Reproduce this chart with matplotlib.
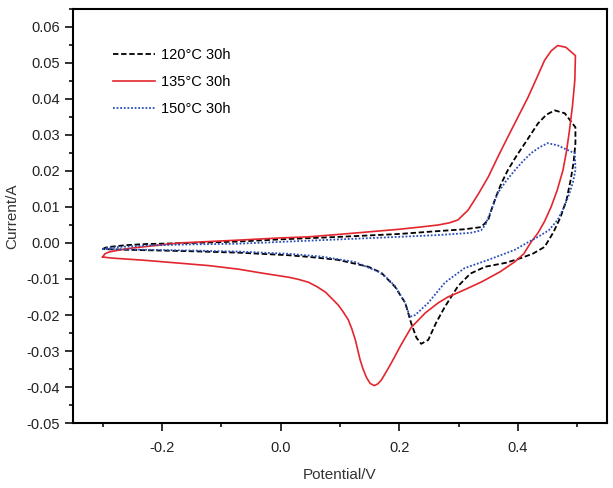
import numpy as np
import matplotlib
matplotlib.use('Agg')
import matplotlib.pyplot as plt
from matplotlib.ticker import MultipleLocator

plt.rcParams['font.family'] = ['Liberation Sans', 'DejaVu Sans']

labels = ['120°C 30h', '135°C 30h', '150°C 30h']

# 120 C: closed CV loop, anodic branch then cathodic branch
v120 = [-0.300, -0.295, -0.289, -0.26, -0.227, -0.15, -0.07, 0.00, 0.10, 0.20, 0.266, 0.31,
        0.338, 0.35, 0.356, 0.363, 0.372, 0.383, 0.397, 0.412, 0.434, 0.448, 0.462, 0.479,
        0.497, 0.497, 0.494, 0.489, 0.482, 0.472, 0.46, 0.445, 0.425, 0.405, 0.38, 0.345,
        0.32, 0.299, 0.277, 0.262, 0.249, 0.237, 0.229, 0.220, 0.210, 0.193, 0.170, 0.148,
        0.097, 0.05, 0.013, -0.07, -0.15, -0.257, -0.300]
i120 = [-0.0017, -0.0013, -0.0011, -0.0006, -0.0003, 0.0000, 0.0004, 0.0010, 0.0017, 0.0025,
        0.0033, 0.0038, 0.0044, 0.0064, 0.0095, 0.0128, 0.0165, 0.0202, 0.0240, 0.0277,
        0.0332, 0.0356, 0.0368, 0.0360, 0.0321, 0.0277, 0.0225, 0.0175, 0.0120, 0.0072,
        0.0030, -0.0011, -0.0030, -0.0042, -0.0055, -0.0066, -0.0085, -0.0120, -0.0177,
        -0.0222, -0.0269, -0.0280, -0.0263, -0.0222, -0.0166, -0.0122, -0.0083, -0.0066,
        -0.0047, -0.0039, -0.0034, -0.0027, -0.0023, -0.0019, -0.0017]

# 135 C
v135 = [-0.300, -0.296, -0.289, -0.27, -0.25, -0.21, -0.171, -0.12, -0.07, 0.00, 0.047, 0.10,
        0.15, 0.20, 0.24, 0.266, 0.285, 0.299, 0.316, 0.333, 0.35, 0.366, 0.383, 0.40, 0.417,
        0.431, 0.445, 0.456, 0.467, 0.481, 0.497, 0.496, 0.492, 0.487, 0.482, 0.476, 0.466,
        0.456, 0.445, 0.434, 0.422, 0.41, 0.395, 0.37, 0.34, 0.31, 0.282, 0.266, 0.244,
        0.220, 0.203, 0.187, 0.178, 0.170, 0.164, 0.158, 0.151, 0.145, 0.139, 0.134, 0.126,
        0.120, 0.114, 0.105, 0.097, 0.076, 0.062, 0.047, 0.03, 0.013, -0.03, -0.07, -0.12,
        -0.171, -0.23, -0.284, -0.300]
i135 = [-0.0039, -0.0030, -0.0025, -0.0019, -0.0014, -0.0007, 0.0000, 0.0004, 0.0008, 0.0014,
        0.0017, 0.0024, 0.0031, 0.0038, 0.0045, 0.0050, 0.0056, 0.0064, 0.0091, 0.0135,
        0.0183, 0.0238, 0.0294, 0.0349, 0.0404, 0.0455, 0.0507, 0.0533, 0.0548, 0.0543,
        0.0520, 0.0452, 0.0380, 0.0313, 0.0255, 0.0202, 0.0145, 0.0100, 0.0060, 0.0028,
        0.0002, -0.0030, -0.0052, -0.0080, -0.0107, -0.0130, -0.0150, -0.0166, -0.0194,
        -0.0235, -0.0283, -0.0332, -0.0358, -0.0380, -0.0391, -0.0396, -0.0390, -0.0374,
        -0.0350, -0.0324, -0.0269, -0.0238, -0.0213, -0.0190, -0.0172, -0.0137, -0.0122,
        -0.0109, -0.0101, -0.0095, -0.0084, -0.0073, -0.0063, -0.0056, -0.0048, -0.0042,
        -0.0039]

# 150 C
v150 = [-0.300, -0.29, -0.227, -0.15, -0.07, 0.00, 0.10, 0.20, 0.266, 0.32, 0.338, 0.345,
        0.355, 0.366, 0.38, 0.395, 0.408, 0.422, 0.436, 0.45, 0.467, 0.481, 0.496, 0.497,
        0.493, 0.487, 0.478, 0.467, 0.452, 0.434, 0.415, 0.395, 0.35, 0.31, 0.277, 0.249,
        0.227, 0.218, 0.21, 0.193, 0.178, 0.165, 0.126, 0.07, 0.013, -0.07, -0.15, -0.257,
        -0.300]
i150 = [-0.0017, -0.0013, -0.0007, -0.0004, -0.0002, 0.0003, 0.0010, 0.0017, 0.0022, 0.0028,
        0.0035, 0.0050, 0.0091, 0.0138, 0.0172, 0.0202, 0.0226, 0.0249, 0.0265, 0.0277,
        0.0271, 0.0260, 0.0249, 0.0202, 0.0170, 0.0138, 0.0100, 0.0064, 0.0035, 0.0017,
        0.0000, -0.0019, -0.0047, -0.0070, -0.0110, -0.0166, -0.0200, -0.0205, -0.0166,
        -0.0120, -0.0095, -0.0080, -0.0053, -0.0038, -0.0030, -0.0024, -0.0021, -0.0018,
        -0.0017]

fig = plt.figure(figsize=(6.13, 4.88), dpi=100)
ax = fig.add_axes([0.119, 0.133, 0.871, 0.849])

ax.plot(v120, i120, color='black', linestyle=(0, (3, 1.5)), linewidth=1.3, label=labels[0])
ax.plot(v135, i135, color='#e3262e', linestyle='-', linewidth=1.2, label=labels[1])
ax.plot(v150, i150, color='#2b4fb8', linestyle=(0, (1, 1)), linewidth=1.3, label=labels[2])

ax.set_xlim(-0.35, 0.55)
ax.set_ylim(-0.05, 0.065)
ax.set_xticks([-0.2, 0.0, 0.2, 0.4])
ax.xaxis.set_minor_locator(MultipleLocator(0.1))
ax.set_yticks(np.arange(-0.05, 0.061, 0.01))
ax.yaxis.set_minor_locator(MultipleLocator(0.005))
ax.xaxis.set_major_formatter(plt.FormatStrFormatter('%.1f'))
ax.yaxis.set_major_formatter(plt.FormatStrFormatter('%.2f'))

ax.tick_params(which='both', direction='out', top=False, right=False, width=1.3,
               labelsize=10.5, colors='#222222')
ax.tick_params(which='major', length=6)
ax.tick_params(which='minor', length=3)
ax.tick_params(axis='x', pad=7)
for s in ax.spines.values():
    s.set_linewidth(1.5)

ax.set_xlabel('Potential/V', fontsize=11, color='#333333', labelpad=9)
ax.set_ylabel('Current/A', fontsize=11, color='#333333', labelpad=5)

ax.legend(loc='upper left', bbox_to_anchor=(0.075, 0.905), frameon=False, fontsize=10.5,
          borderpad=0, borderaxespad=0, handlelength=2.9, handletextpad=0.4,
          labelspacing=0.9)

plt.savefig('out.png', dpi=100)
